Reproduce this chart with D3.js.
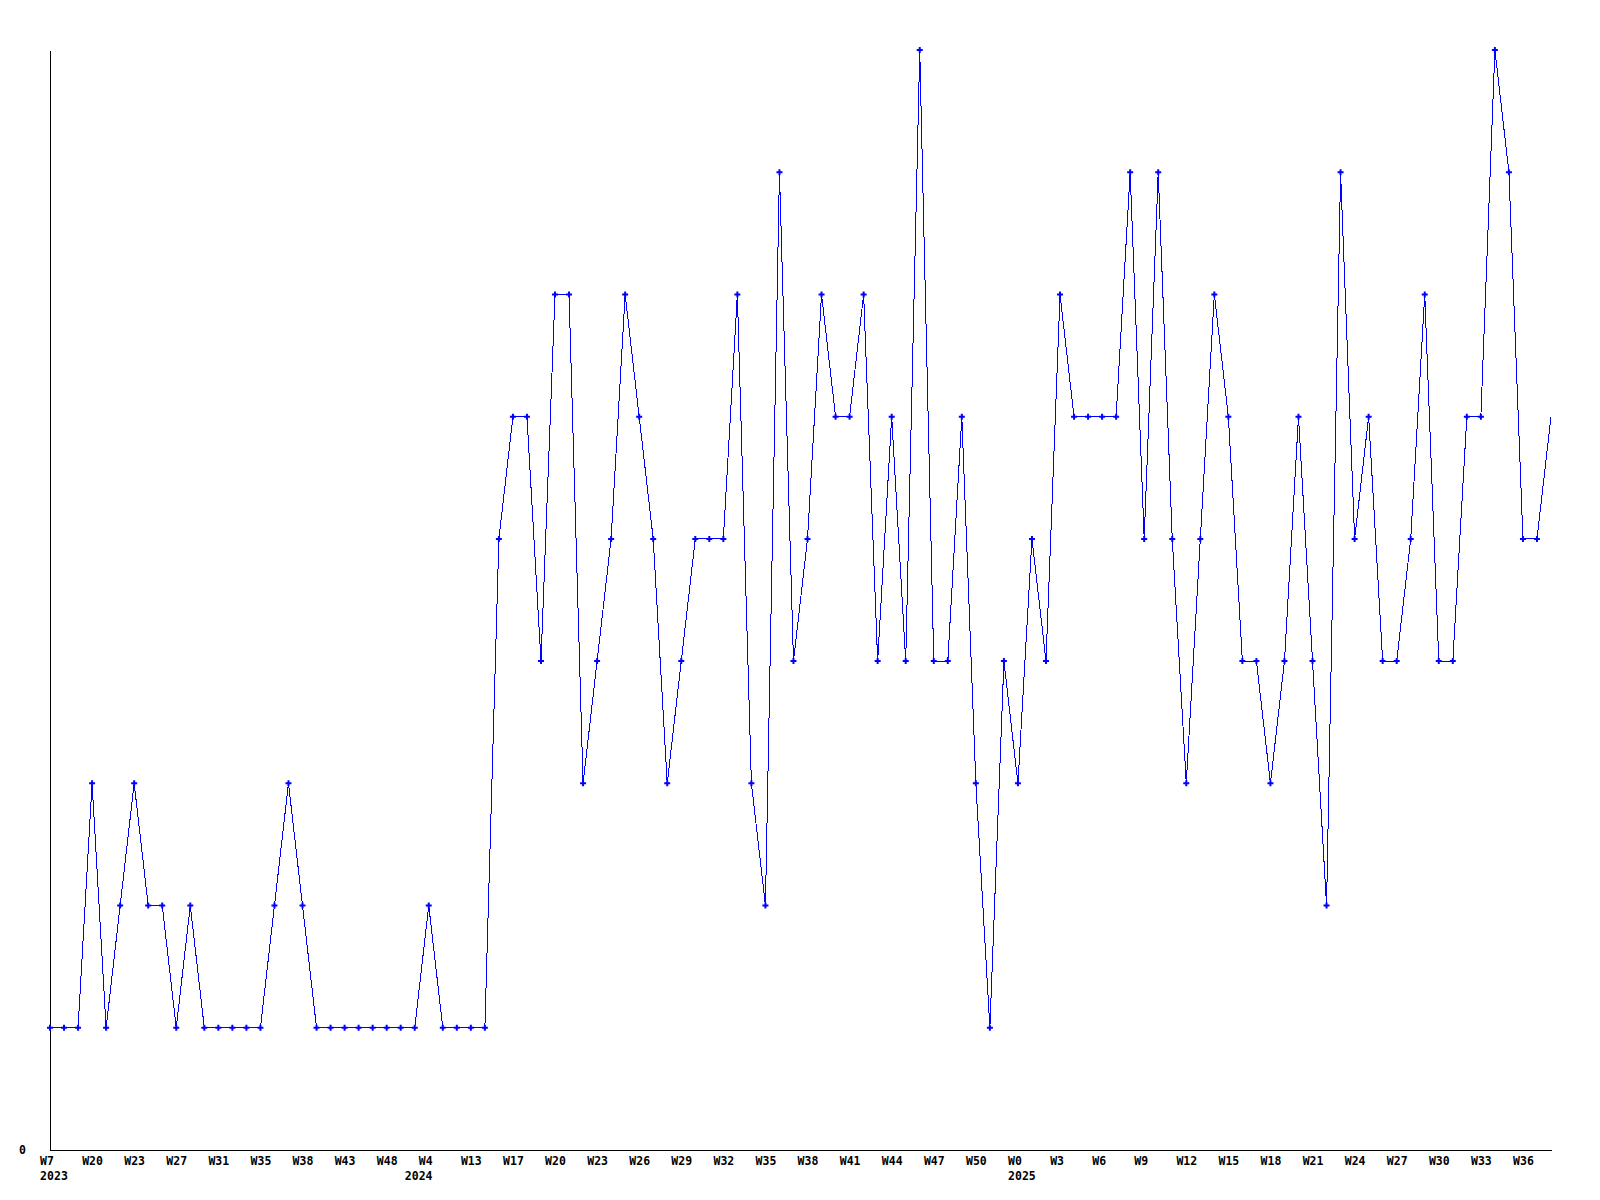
<!DOCTYPE html>
<html>
<head>
  <title>Weekly line chart</title>
  <script src="https://d3js.org/d3.v7.min.js"></script>
  <style>
    body {
      margin: 0;
      background: #ffffff;
    }

    .axis path,
    .axis line {
      fill: none;
      stroke: #000000;
      stroke-width: 1px;
      shape-rendering: crispEdges;
    }

    .axis text {
      font-family: "DejaVu Sans Mono", monospace;
      font-weight: bold;
      font-size: 11.5px;
      fill: #000000;
    }

    .series {
      fill: none;
      stroke: #0000ff;
      stroke-width: 1px;
      shape-rendering: crispEdges;
    }

    .marker {
      fill: #0000ff;
    }
  </style>
</head>
<body>
  <svg id="chart"></svg>

  <script>
    // Values per point (weekly counts)
    const values = [
      1, 1, 1, 3, 1, 2, 3, 2, 2, 1,
      2, 1, 1, 1, 1, 1, 2, 3, 2, 1,
      1, 1, 1, 1, 1, 1, 1, 2, 1, 1,
      1, 1, 5, 6, 6, 4, 7, 7, 3, 4,
      5, 7, 6, 5, 3, 4, 5, 5, 5, 7,
      3, 2, 8, 4, 5, 7, 6, 6, 7, 4,
      6, 4, 9, 4, 4, 6, 3, 1, 4, 3,
      5, 4, 7, 6, 6, 6, 6, 8, 5, 8,
      5, 3, 5, 7, 6, 4, 4, 3, 4, 6,
      4, 2, 8, 5, 6, 4, 4, 5, 7, 4,
      4, 6, 6, 9, 8, 5, 5, 6
    ];

    // Week tick labels and the point index each one sits on
    const weekTickIndex = [0, 3, 6, 9, 12, 15, 18, 21, 24, 27, 30, 33, 36, 39, 42, 45, 48,
                           51, 54, 57, 60, 63, 66, 69, 72, 75, 78, 81, 84, 87, 90, 93, 96, 99, 102, 105];
    const weekTickLabels = ["W7", "W20", "W23", "W27", "W31", "W35", "W38", "W43", "W48", "W4",
                            "W13", "W17", "W20", "W23", "W26", "W29", "W32", "W35", "W38", "W41",
                            "W44", "W47", "W50", "W0", "W3", "W6", "W9", "W12", "W15", "W18",
                            "W21", "W24", "W27", "W30", "W33", "W36"];

    // Year labels under the week row
    const yearTickIndex = [0, 26, 69];
    const yearTickLabels = ["2023", "2024", "2025"];

    // y axis only shows zero
    const yTicks = [0];
    const yMax = 9;

    const width = 1600;
    const height = 1200;
    const margin = { top: 50, right: 49, bottom: 50, left: 50 };

    const svg = d3.select("#chart")
      .attr("width", width)
      .attr("height", height);

    const x = d3.scaleLinear()
      .domain([0, values.length - 1])
      .range([margin.left, width - margin.right]);

    const y = d3.scaleLinear()
      .domain([0, yMax])
      .range([height - margin.bottom, margin.top]);

    // bottom axis with week labels
    const xAxis = d3.axisBottom(x)
      .tickValues(weekTickIndex)
      .tickFormat((d, i) => weekTickLabels[i])
      .tickSize(0)
      .tickSizeOuter(0)
      .tickPadding(7);

    svg.append("g")
      .attr("class", "axis")
      .attr("transform", `translate(0, ${height - margin.bottom})`)
      .call(xAxis)
      .selectAll("text")
      .attr("text-anchor", "start")
      .attr("dx", -10.4);

    // second row: years
    const yearAxis = d3.axisBottom(x)
      .tickValues(yearTickIndex)
      .tickFormat((d, i) => yearTickLabels[i])
      .tickSize(0)
      .tickSizeOuter(0)
      .tickPadding(22);

    const yearG = svg.append("g")
      .attr("class", "axis")
      .attr("transform", `translate(0, ${height - margin.bottom})`)
      .call(yearAxis);
    yearG.select(".domain").remove();
    yearG.selectAll("text")
      .attr("text-anchor", "start")
      .attr("dx", -10.4);

    // left axis
    const yAxis = d3.axisLeft(y)
      .tickValues(yTicks)
      .tickFormat(d3.format("d"))
      .tickSize(0)
      .tickSizeOuter(0)
      .tickPadding(24);

    svg.append("g")
      .attr("class", "axis")
      .attr("transform", `translate(${margin.left}, 0)`)
      .call(yAxis);

    // the line
    const line = d3.line()
      .x((d, i) => x(i))
      .y(d => y(d));

    svg.append("path")
      .datum(values)
      .attr("class", "series")
      .attr("d", line);

    // point markers (the last point has none in the original)
    const marker = d3.symbol().type(d3.symbolCross).size(20);

    svg.selectAll(".marker")
      .data(values.slice(0, -1))
      .enter()
      .append("path")
      .attr("class", "marker")
      .attr("d", marker)
      .attr("transform", (d, i) => `translate(${x(i)}, ${y(d)})`);
  </script>
</body>
</html>
